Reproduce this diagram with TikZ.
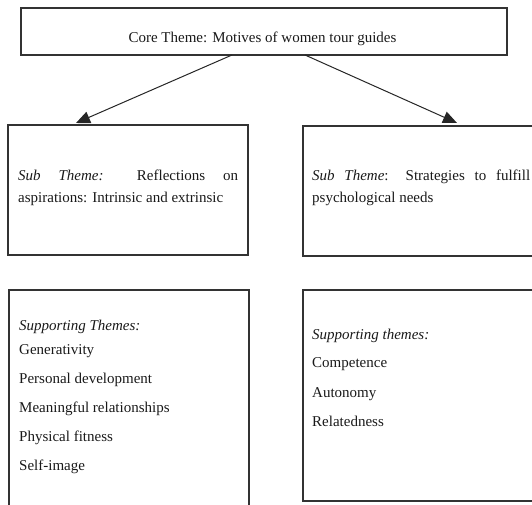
\documentclass[tikz,border=0pt]{standalone}
\usepackage{fontspec}
\setmainfont{Liberation Serif}
\usetikzlibrary{arrows.meta}
\definecolor{boxcol}{HTML}{333333}
\begin{document}
\begin{tikzpicture}[x=1pt,y=-1pt,
  box/.style={draw=boxcol, line width=1.5pt, rectangle, inner sep=0pt},
  lbl/.style={anchor=base west, inner sep=0pt, text=black!90, font=\fontsize{15}{18}\selectfont},
  arr/.style={draw=black!85, line width=1pt, -{Triangle[length=14pt,width=12pt]}}]
\useasboundingbox (0,0) rectangle (532,504);
\clip (0,0) rectangle (532,504);
% boxes
\node[box, minimum width=486pt, minimum height=47pt] (core) at (264,31.5) {};
\node[box, minimum width=240pt, minimum height=130pt] (sub1) at (128,190) {};
\node[box, minimum width=242pt, minimum height=130pt] (sub2) at (424,191) {};
\node[box, minimum width=240pt, minimum height=225pt] (sup1) at (129,402.5) {};
\node[box, minimum width=242pt, minimum height=211pt] (sup2) at (424,395.5) {};
% core text
\node[lbl, anchor=base] (coretxt) at (262.5,42) {Core Theme: Motives of women tour guides};
% arrows
\coordinate (s1) at (232,55);
\coordinate (s2) at (305,55);
\coordinate (t1) at (76,123);
\coordinate (t2) at (457,123);
\draw[arr] (s1) -- (t1);
\draw[arr] (s2) -- (t2);
% sub theme texts
\node[lbl] (subtxt1) at (18,180) {\parbox[t]{220pt}{\hyphenpenalty=10000\exhyphenpenalty=10000\baselineskip=22pt \emph{Sub Theme:} Reflections on aspirations: Intrinsic and extrinsic}};
\node[lbl] (subtxt2) at (312,180) {\parbox[t]{218pt}{\hyphenpenalty=10000\exhyphenpenalty=10000\baselineskip=22pt \emph{Sub Theme}: Strategies to fulfill psychological needs}};
% supporting themes left
\node[lbl] (l0) at (19,330) {\emph{Supporting Themes:}};
\node[lbl] (l1) at (19,354) {Generativity};
\node[lbl] (l2) at (19,383) {Personal development};
\node[lbl] (l3) at (19,412) {Meaningful relationships};
\node[lbl] (l4) at (19,441) {Physical fitness};
\node[lbl] (l5) at (19,470) {Self-image};
% supporting themes right
\node[lbl] (r0) at (312,339) {\emph{Supporting themes:}};
\node[lbl] (r1) at (312,367) {Competence};
\node[lbl] (r2) at (312,397) {Autonomy};
\node[lbl] (r3) at (312,426) {Relatedness};
\end{tikzpicture}
\end{document}
